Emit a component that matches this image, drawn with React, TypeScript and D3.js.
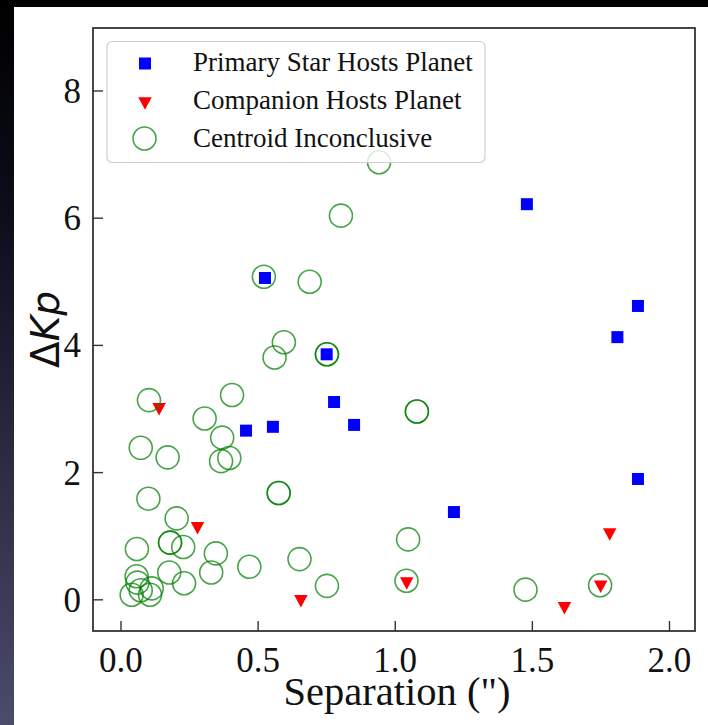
import React from "react";
import * as d3 from "d3";

// ---- data ----
const primaryX = [1.48, 1.885, 1.81, 0.525, 0.75, 0.777, 0.85, 0.554, 0.456, 1.885, 1.214];
const primaryY = [6.22, 4.62, 4.13, 5.06, 3.86, 3.11, 2.75, 2.72, 2.66, 1.9, 1.38];

const companionX = [0.139, 0.279, 0.656, 1.042, 1.617, 1.782, 1.749];
const companionY = [3.03, 1.16, 0.01, 0.29, -0.1, 1.06, 0.24];

const centroidX = [0.941, 0.802, 0.521, 0.688, 0.594, 0.56, 0.751, 0.751, 0.102, 0.405, 0.305, 1.079, 1.079, 0.369, 0.365, 0.395, 0.072, 0.17, 0.575, 0.575, 0.1, 0.203, 0.179, 0.179, 0.227, 0.058, 0.346, 0.651, 0.468, 0.176, 0.329, 0.751, 0.23, 0.057, 0.06, 0.072, 0.039, 0.112, 0.106, 1.047, 1.041, 1.475, 1.747];
const centroidY = [6.88, 6.04, 5.08, 5.0, 4.05, 3.81, 3.86, 3.86, 3.14, 3.22, 2.85, 2.96, 2.96, 2.55, 2.18, 2.23, 2.39, 2.24, 1.68, 1.68, 1.59, 1.28, 0.9, 0.9, 0.83, 0.8, 0.73, 0.64, 0.52, 0.43, 0.43, 0.22, 0.26, 0.37, 0.27, 0.15, 0.08, 0.18, 0.08, 0.95, 0.3, 0.16, 0.23];

const xTicks = [0, 0.5, 1.0, 1.5, 2.0];
const yTicks = [0, 2, 4, 6, 8];
const legendLabels = ["Primary Star Hosts Planet", "Companion Hosts Planet", "Centroid Inconclusive"];

const W = 708;
const H = 725;
const frame = { left: 93, right: 695, top: 28, bottom: 631 };

export default function App() {
  const x = d3.scaleLinear().domain([-0.102, 2.093]).range([frame.left, frame.right]);
  const y = d3.scaleLinear().domain([-0.49, 8.99]).range([frame.bottom, frame.top]);
  const axisColor = "#333";
  const serif = "'Liberation Serif', 'Times New Roman', serif";

  const sq = 12;
  const tri = (cx: number, cy: number, w = 13.5, h = 12.5) => {
    const top = cy - h / 3;
    return `M${cx - w / 2},${top}L${cx + w / 2},${top}L${cx},${top + h}Z`;
  };
  const r = 11.5;
  const green = "green";
  const greenOp = 0.72;

  return (
    <svg width={W} height={H} style={{ position: "absolute", left: 0, top: 0, display: "block" }}>
      <defs>
        <linearGradient id="lg" x1="0" y1="0" x2="0" y2="1">
          <stop offset="0" stopColor="#000000" />
          <stop offset="0.3" stopColor="#0d0d1c" />
          <stop offset="1" stopColor="#4b4b6c" />
        </linearGradient>
      </defs>
      <rect x={0} y={0} width={W} height={H} fill="#ffffff" />
      <rect x={0} y={0} width={W} height={7} fill="#000" />
      <rect x={0} y={0} width={14} height={H} fill="url(#lg)" />

      {/* ticks */}
      {xTicks.map((t) => (
        <line key={"xt" + t} x1={x(t)} x2={x(t)} y1={frame.bottom} y2={frame.bottom - 10} stroke={axisColor} strokeWidth={1.4} />
      ))}
      {yTicks.map((t) => (
        <line key={"yt" + t} x1={frame.left} x2={frame.left + 10} y1={y(t)} y2={y(t)} stroke={axisColor} strokeWidth={1.4} />
      ))}
      {xTicks.map((t) => (
        <text key={"xl" + t} x={x(t)} y={672} textAnchor="middle" fontFamily={serif} fontSize={35} fill="#111">
          {d3.format(".1f")(t)}
        </text>
      ))}
      {yTicks.map((t) => (
        <text key={"yl" + t} x={81} y={y(t) + 12} textAnchor="end" fontFamily={serif} fontSize={35} fill="#111">
          {t}
        </text>
      ))}

      {/* axis labels */}
      <text x={(frame.left + frame.right) / 2 + 3} y={705} textAnchor="middle" fontFamily={serif} fontSize={40.5} fill="#111">
        Separation (")
      </text>
      <text
        transform={`translate(59,${(frame.top + frame.bottom) / 2}) rotate(-90)`}
        textAnchor="middle"
        fontFamily="'DejaVu Sans', sans-serif"
        fontSize={39}
        fill="#111"
      >
        Δ<tspan fontStyle="italic">Kp</tspan>
      </text>

      {/* data */}
      {primaryX.map((v, i) => (
        <rect key={"p" + i} x={x(v) - sq / 2} y={y(primaryY[i]) - sq / 2} width={sq} height={sq} fill="#0000ff" />
      ))}
      {companionX.map((v, i) => (
        <path key={"c" + i} d={tri(x(v), y(companionY[i]))} fill="#ff0000" />
      ))}
      {centroidX.map((v, i) => (
        <circle key={"g" + i} cx={x(v)} cy={y(centroidY[i])} r={r} fill="none" stroke={green} strokeOpacity={greenOp} strokeWidth={1.6} />
      ))}

      {/* legend */}
      <rect x={107} y={41.5} width={378} height={121} rx={5} fill="#fff" fillOpacity={0.8} stroke="#d0d0d0" strokeWidth={1.2} />
      <rect x={145 - sq / 2} y={63.5 - sq / 2} width={sq} height={sq} fill="#0000ff" />
      <path d={tri(145, 101.5)} fill="#ff0000" />
      <circle cx={144.5} cy={138.5} r={r} fill="none" stroke={green} strokeOpacity={greenOp} strokeWidth={1.6} />
      {legendLabels.map((l, i) => (
        <text key={"ll" + i} x={193} y={70.5 + i * 38} fontFamily={serif} fontSize={27} fill="#111">
          {l}
        </text>
      ))}

      {/* frame */}
      <rect x={frame.left} y={frame.top} width={frame.right - frame.left} height={frame.bottom - frame.top} fill="none" stroke={axisColor} strokeWidth={1.8} />
    </svg>
  );
}
